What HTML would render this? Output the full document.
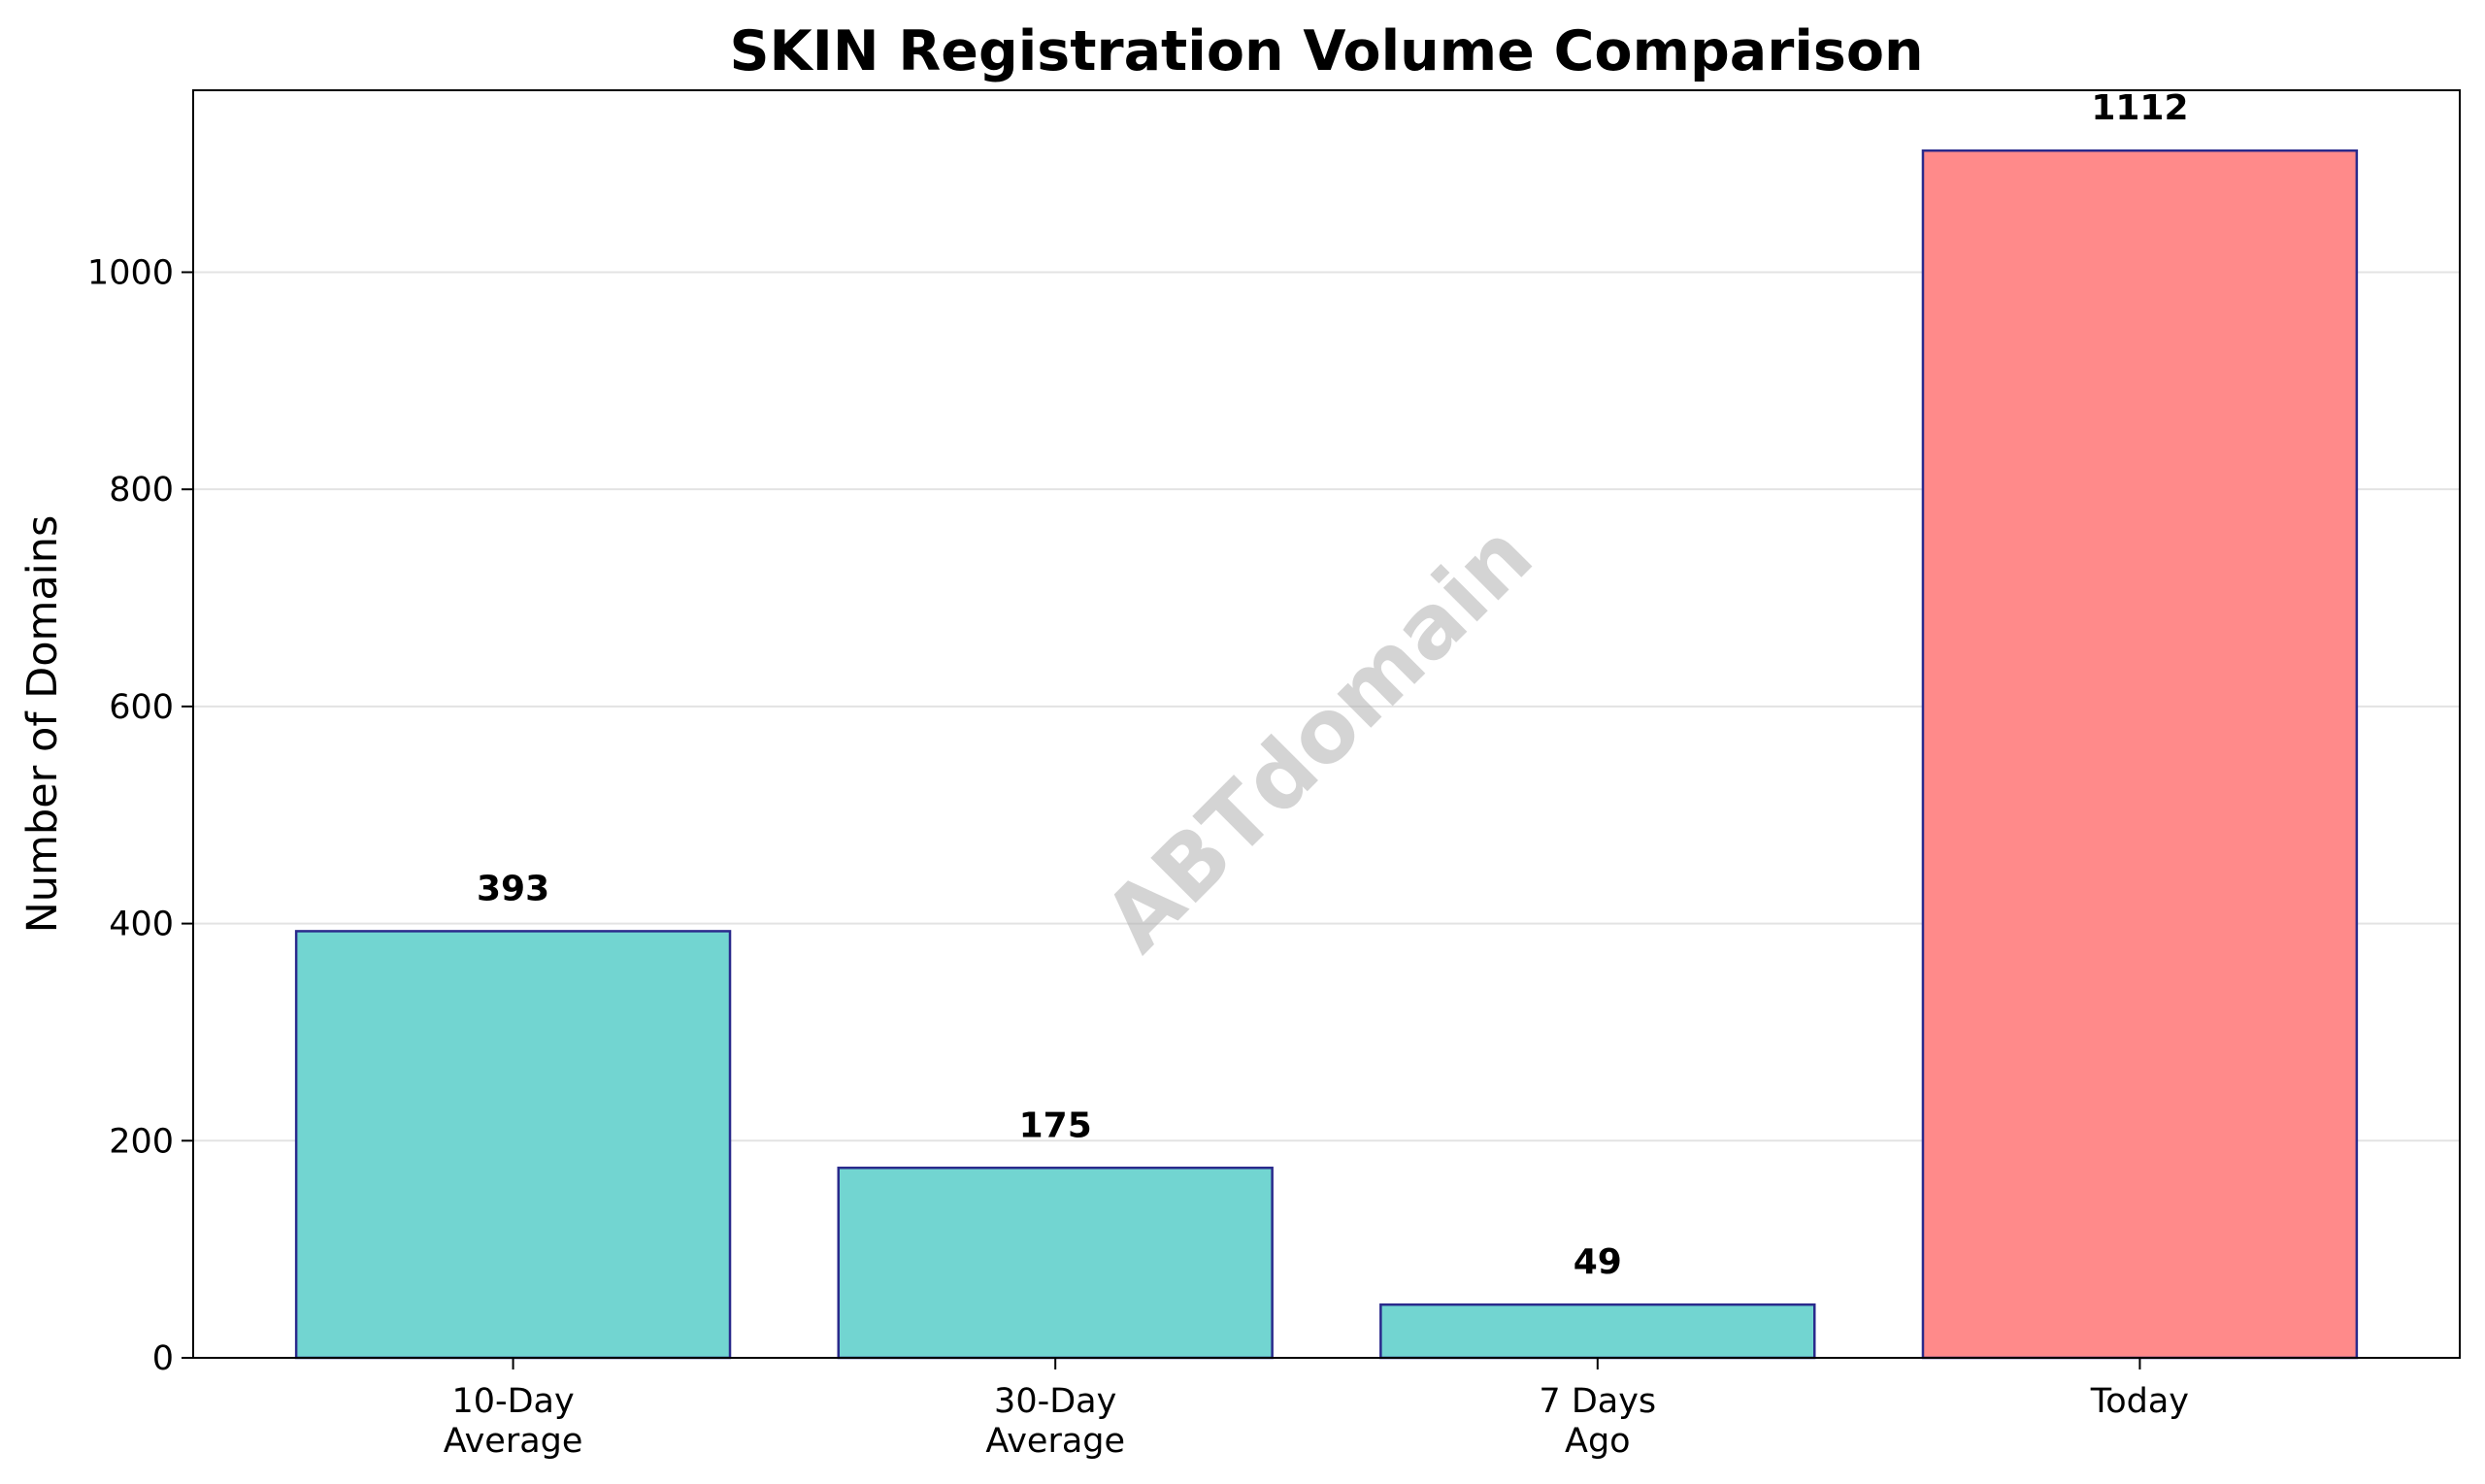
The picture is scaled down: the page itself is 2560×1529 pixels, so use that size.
<!DOCTYPE html>
<html><head><meta charset="utf-8"><style>html,body{margin:0;padding:0;background:#fff}svg{display:block}text{font-family:"DejaVu Sans","Liberation Sans",sans-serif}</style></head>
<body>
<svg id="chart" width="2560" height="1529" viewBox="0 0 2560 1529" xmlns="http://www.w3.org/2000/svg"></svg>
<script>
const categories = ["10-Day|Average", "30-Day|Average", "7 Days|Ago", "Today"];
const values = [393, 175, 49, 1112];
const barColors = ["#72d5d1", "#72d5d1", "#72d5d1", "#ff8a8a"];
const yTicks = [0, 200, 400, 600, 800, 1000];

const L = 199, R = 2534, T = 93, B = 1399;
const yMax = 1112 * 1.05;
const xMin = -0.59, xMax = 3.59;
const xs = v => L + (v - xMin) / (xMax - xMin) * (R - L);
const ys = v => B - v / yMax * (B - T);
const svg = document.getElementById('chart');
const NS = 'http://www.w3.org/2000/svg';
function mk(tag, attrs, txt) {
  const e = document.createElementNS(NS, tag);
  for (const k in attrs) e.setAttribute(k, attrs[k]);
  if (txt !== undefined) e.textContent = txt;
  svg.appendChild(e);
  return e;
}
yTicks.forEach(t => {
  const g = mk('line', {x1: L, x2: R, y1: ys(t), y2: ys(t), stroke: '#e3e3e3', 'stroke-width': 2});
  
  
});
values.forEach((v, i) => {
  const x0 = xs(i - 0.4), x1 = xs(i + 0.4);
  const r = mk('rect', {x: x0, y: ys(v), width: x1 - x0, height: B - ys(v), fill: barColors[i], stroke: '#2a2a8c', 'stroke-width': 2.5});
  
  
  const t = mk('text', {x: xs(i), y: ys(v) - 32, 'text-anchor': 'middle', 'font-size': 36, 'font-weight': 'bold'}, String(v));
  
  
  const tk = mk('line', {x1: xs(i), x2: xs(i), y1: B, y2: B + 12, stroke: '#000', 'stroke-width': 2});
  
  
  const parts = categories[i].split('|');
  parts.forEach((p, j) => {
    const lt = mk('text', {x: xs(i), y: 1455 + j * 41, 'text-anchor': 'middle', 'font-size': 35}, p);
    
    
  });
});
yTicks.forEach(t => {
  const tk = mk('line', {x1: L - 12, x2: L, y1: ys(t), y2: ys(t), stroke: '#000', 'stroke-width': 2});
  
  
  const lt = mk('text', {x: L - 20, y: ys(t) + 12, 'text-anchor': 'end', 'font-size': 35}, String(t));
  
  
});
const fr = mk('rect', {x: L, y: T, width: R - L, height: B - T, fill: 'none', stroke: '#000', 'stroke-width': 2});


const wm = mk('text', {x: 0, y: 0, 'text-anchor': 'middle', 'font-size': 90, 'font-weight': 'bold', fill: '#b0b0b0', 'fill-opacity': 0.55, transform: 'translate(1380,782) rotate(-45)'}, 'ABTdomain');


const tt = mk('text', {x: (L + R) / 2, y: 72, 'text-anchor': 'middle', 'font-size': 57, 'font-weight': 'bold'}, 'SKIN Registration Volume Comparison');


const yl = mk('text', {x: 0, y: 0, 'text-anchor': 'middle', 'font-size': 40, transform: 'translate(58,746) rotate(-90)'}, 'Number of Domains');
yl.setAttribute('font-size', '43');


</script>
</body></html>
